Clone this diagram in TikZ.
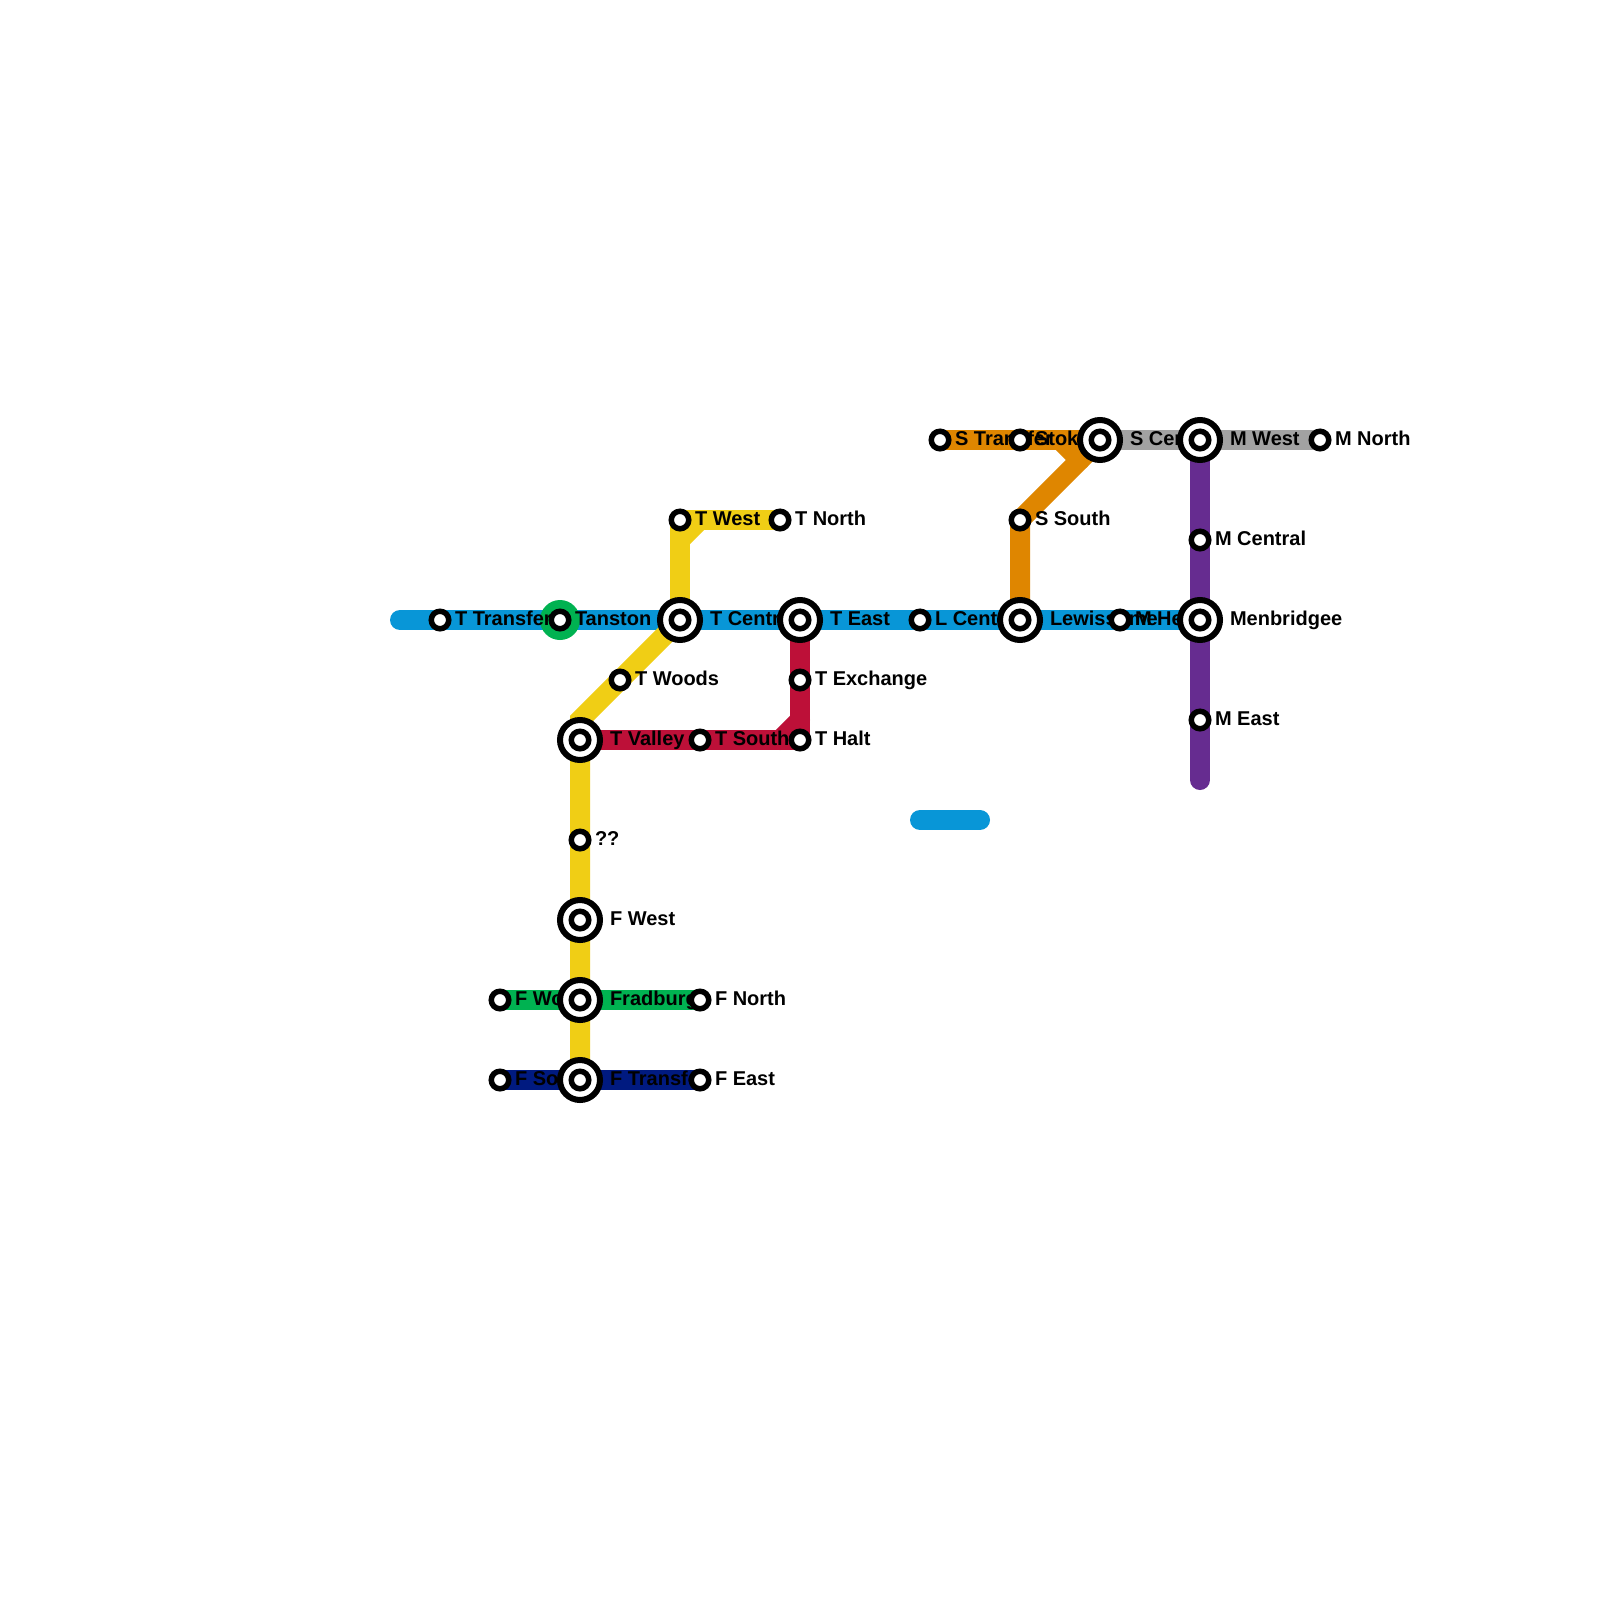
\documentclass[tikz,border=0pt]{standalone}
\usepackage{fontspec}
\setmainfont{Liberation Sans}
\pgfdeclarelayer{linelayer}
\pgfdeclarelayer{labellayer}
\pgfsetlayers{linelayer,labellayer,main}
\definecolor{lblue}{HTML}{0896D7}
\definecolor{lyellow}{HTML}{F0CE15}
\definecolor{lred}{HTML}{BD1038}
\definecolor{lorange}{HTML}{DF8600}
\definecolor{lgray}{HTML}{A2A2A2}
\definecolor{lpurple}{HTML}{662C90}
\definecolor{lgreen}{HTML}{00B251}
\definecolor{lnavy}{HTML}{001A80}
\tikzset{
  route/.style={line width=20pt,line cap=round,line join=miter,miter limit=10},
  stn/.style={circle,draw=black,fill=white,line width=5.5pt,minimum size=17.5pt,inner sep=0pt,outer sep=0pt},
  hub/.style={circle,draw=black,fill=white,line width=6pt,minimum size=40pt,inner sep=0pt,outer sep=0pt,
    path picture={\draw[black,line width=5.5pt] (path picture bounding box.center) circle (8.75pt);}},
  halo/.style={circle,fill=lgreen,minimum size=40pt,inner sep=0pt,outer sep=0pt},
  lbl/.style={anchor=base west,inner sep=0pt,outer sep=0pt,font=\fontsize{20}{24}\selectfont\bfseries,text=black}
}
% small station: name, x, y, text
\newcommand{\smallstn}[4]{%
  \node[stn] (#1) at (#2,#3) {};
  \begin{pgfonlayer}{labellayer}
    \node[lbl] (#1-label) at ({#2+15},{#3+5}) {#4};
  \end{pgfonlayer}}
% interchange station: name, x, y, text
\newcommand{\hubstn}[4]{%
  \node[hub] (#1) at (#2,#3) {};
  \begin{pgfonlayer}{labellayer}
    \node[lbl] (#1-label) at ({#2+30},{#3+5}) {#4};
  \end{pgfonlayer}}
\begin{document}
\begin{tikzpicture}[x=1pt,y=-1pt]
\useasboundingbox (0,0) rectangle (1600,1600);
% stations
\smallstn{ttransfer}{440}{620}{T Transfer}
\smallstn{tanston}{560}{620}{Tanston}
\hubstn{tcentral}{680}{620}{T Central}
\hubstn{teast}{800}{620}{T East}
\smallstn{lcentral}{920}{620}{L Central}
\hubstn{lewis}{1020}{620}{Lewissome}
\smallstn{mheath}{1120}{620}{M Heath}
\hubstn{menb}{1200}{620}{Menbridgee}
\smallstn{twest}{680}{520}{T West}
\smallstn{tnorth}{780}{520}{T North}
\smallstn{twoods}{620}{680}{T Woods}
\hubstn{tvalley}{580}{740}{T Valley}
\smallstn{tsouth}{700}{740}{T South}
\smallstn{thalt}{800}{740}{T Halt}
\smallstn{texch}{800}{680}{T Exchange}
\smallstn{qq}{580}{840}{??}
\hubstn{fwest}{580}{920}{F West}
\hubstn{fradburg}{580}{1000}{Fradburgh}
\hubstn{ftransfer}{580}{1080}{F Transfer}
\smallstn{fwoods}{500}{1000}{F Woods}
\smallstn{fnorth}{700}{1000}{F North}
\smallstn{fsouth}{500}{1080}{F South}
\smallstn{feast}{700}{1080}{F East}
\smallstn{stransfer}{940}{440}{S Transfer}
\smallstn{stoke}{1020}{440}{Stoke}
\hubstn{scentral}{1100}{440}{S Central}
\hubstn{mwest}{1200}{440}{M West}
\smallstn{mnorth}{1320}{440}{M North}
\smallstn{ssouth}{1020}{520}{S South}
\smallstn{mcentral}{1200}{540}{M Central}
\smallstn{meast}{1200}{720}{M East}
% free ends and bends
\coordinate (blueW) at (400,620);
\coordinate (purpleS) at (1200,780);
\coordinate (orphanA) at (920,820);
\coordinate (orphanB) at (980,820);
\coordinate (yBendA) at (680,540);
\coordinate (yBendB) at (700,520);
\coordinate (yBendC) at (580,720);
\coordinate (rBendA) at (780,740);
\coordinate (rBendB) at (800,720);
\coordinate (oBendA) at (1060,440);
\coordinate (oBendB) at (1080,460);
\begin{pgfonlayer}{linelayer}
  \fill[white] (0,0) rectangle (1600,1600);
  \draw[route,lblue] (blueW) -- (menb.center);
  \draw[route,lblue] (orphanA) -- (orphanB);
  \node[halo] (tanstonhalo) at (tanston.center) {};
  \draw[route,lgray] (scentral.center) -- (mnorth.center);
  \draw[route,lpurple] (mwest.center) -- (purpleS);
  \draw[route,lorange] (stransfer.center) -- (scentral.center);
  \draw[route,lorange] (oBendA) -- (oBendB);
  \draw[route,lorange] (scentral.center) -- (ssouth.center) -- (lewis.center);
  \draw[route,lyellow] (tnorth.center) -- (twest.center);
  \draw[route,lyellow] (twest.center) -- (tcentral.center);
  \draw[route,lyellow] (yBendA) -- (yBendB);
  \draw[route,lyellow] (tcentral.center) -- (yBendC) -- (ftransfer.center);
  \draw[route,lred] (tvalley.center) -- (thalt.center);
  \draw[route,lred] (teast.center) -- (thalt.center);
  \draw[route,lred] (rBendA) -- (rBendB);
  \draw[route,lgreen] (fwoods.center) -- (fnorth.center);
  \draw[route,lnavy] (fsouth.center) -- (feast.center);
\end{pgfonlayer}
\end{tikzpicture}
\end{document}
